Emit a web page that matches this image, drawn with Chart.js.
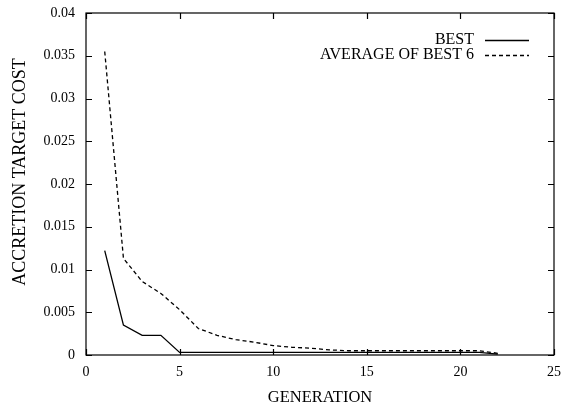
<!DOCTYPE html>
<html>
<head>
<meta charset="utf-8">
<script src="https://cdn.jsdelivr.net/npm/chart.js@4"></script>
<style>
  html, body { margin: 0; padding: 0; background: #fff; }
  #wrap { width: 561px; height: 408px; }
</style>
</head>
<body>
<div id="wrap"><canvas id="costChart" width="561" height="408"></canvas></div>
<script>
// datos
const generations = [1, 2, 3, 4, 5, 6, 7, 8, 9, 10, 11, 12, 13, 14, 15, 16, 17, 18, 19, 20, 21, 22];
const best = [0.0122, 0.0035, 0.0023, 0.0023, 0.0003, 0.0003, 0.0003, 0.0003, 0.0003, 0.0003, 0.0003,
              0.0003, 0.0003, 0.0003, 0.0003, 0.0003, 0.0003, 0.0003, 0.0003, 0.0003, 0.0003, 0.0001];
const avgBest6 = [0.0355, 0.0113, 0.0086, 0.0072, 0.0053, 0.0031, 0.0023, 0.0018, 0.0015, 0.0011, 0.0009,
                  0.0008, 0.0006, 0.0005, 0.0005, 0.0005, 0.0005, 0.0005, 0.0005, 0.0005, 0.0005, 0.0002];
const seriesNames = ['BEST', 'AVERAGE OF BEST 6'];
const yTitle = 'ACCRETION TARGET COST';
const xTitle = 'GENERATION';

const FONT = "'Liberation Serif', 'Times New Roman', serif";
Chart.defaults.font.family = FONT;
Chart.defaults.font.size = 14;
Chart.defaults.color = '#000';

function points(ys) {
    return generations.map((g, i) => ({ x: g, y: ys[i] }));
}

// marco completo y marcas hacia dentro, estilo gnuplot
const framePlugin = {
    id: 'frame',
    afterDatasetsDraw(chart) {
        const { ctx, chartArea: a, scales } = chart;
        const len = 6;
        ctx.save();
        ctx.strokeStyle = '#000';
        ctx.lineWidth = 1.2;
        ctx.strokeRect(a.left, a.top, a.right - a.left, a.bottom - a.top);
        ctx.beginPath();
        scales.x.ticks.forEach(t => {
            const px = Math.round(scales.x.getPixelForValue(t.value)) + 0.5;
            ctx.moveTo(px, a.bottom); ctx.lineTo(px, a.bottom - len);
            ctx.moveTo(px, a.top); ctx.lineTo(px, a.top + len);
        });
        scales.y.ticks.forEach(t => {
            const py = Math.round(scales.y.getPixelForValue(t.value)) + 0.5;
            ctx.moveTo(a.left, py); ctx.lineTo(a.left + len, py);
            ctx.moveTo(a.right, py); ctx.lineTo(a.right - len, py);
        });
        ctx.stroke();
        ctx.restore();
    }
};

// leyenda (texto a la derecha + muestra de linea) y titulo del eje y
const keyPlugin = {
    id: 'key',
    afterDraw(chart) {
        const { ctx, chartArea: a } = chart;
        ctx.save();
        ctx.font = '16px ' + FONT;
        ctx.fillStyle = '#000';
        ctx.textAlign = 'right';
        ctx.textBaseline = 'middle';
        chart.data.datasets.forEach((ds, i) => {
            const y = a.top + 27 + i * 15;
            ctx.fillText(ds.label, a.right - 80, y);
            ctx.beginPath();
            ctx.lineWidth = ds.borderWidth;
            ctx.strokeStyle = ds.borderColor;
            ctx.setLineDash(ds.borderDash || []);
            ctx.moveTo(a.right - 69, Math.round(y) + 0.5);
            ctx.lineTo(a.right - 25, Math.round(y) + 0.5);
            ctx.stroke();
        });
        ctx.setLineDash([]);
        ctx.font = '18px ' + FONT;
        ctx.textAlign = 'center';
        ctx.translate(20, 172);
        ctx.rotate(-Math.PI / 2);
        ctx.fillText(yTitle, 0, 0);
        ctx.restore();
    }
};

new Chart(document.getElementById('costChart').getContext('2d'), {
    type: 'line',
    data: {
        datasets: [{
            label: seriesNames[0],
            data: points(best),
            borderColor: '#000',
            borderWidth: 1.3,
            pointRadius: 0,
            tension: 0
        }, {
            label: seriesNames[1],
            data: points(avgBest6),
            borderColor: '#000',
            borderWidth: 1.3,
            borderDash: [4, 3],
            pointRadius: 0,
            tension: 0
        }]
    },
    options: {
        responsive: false,
        animation: false,
        layout: { padding: { left: 0, right: 7, top: 13, bottom: 0 } },
        plugins: {
            legend: { display: false },
            tooltip: { enabled: false }
        },
        scales: {
            x: {
                type: 'linear',
                min: 0,
                max: 25,
                grid: { display: false, drawTicks: false, tickLength: 0 },
                border: { display: false },
                ticks: {
                    stepSize: 5,
                    padding: 9,
                    maxRotation: 0,
                    font: { size: 14, family: FONT }
                },
                title: {
                    display: true,
                    text: xTitle,
                    padding: { top: 8, bottom: 0 },
                    font: { size: 16.5, family: FONT }
                },
                afterFit(scale) {
                    scale.height = 53;
                    scale.paddingLeft = 0;
                    scale.paddingRight = 0;
                }
            },
            y: {
                min: 0,
                max: 0.04,
                grid: { display: false, drawTicks: false, tickLength: 0 },
                border: { display: false },
                ticks: {
                    stepSize: 0.005,
                    padding: 11,
                    font: { size: 14, family: FONT },
                    callback: v => String(parseFloat(v.toFixed(3)))
                },
                afterFit(scale) {
                    scale.width = 86;
                    scale.paddingTop = 0;
                    scale.paddingBottom = 0;
                }
            }
        }
    },
    plugins: [framePlugin, keyPlugin]
});
</script>
</body>
</html>
